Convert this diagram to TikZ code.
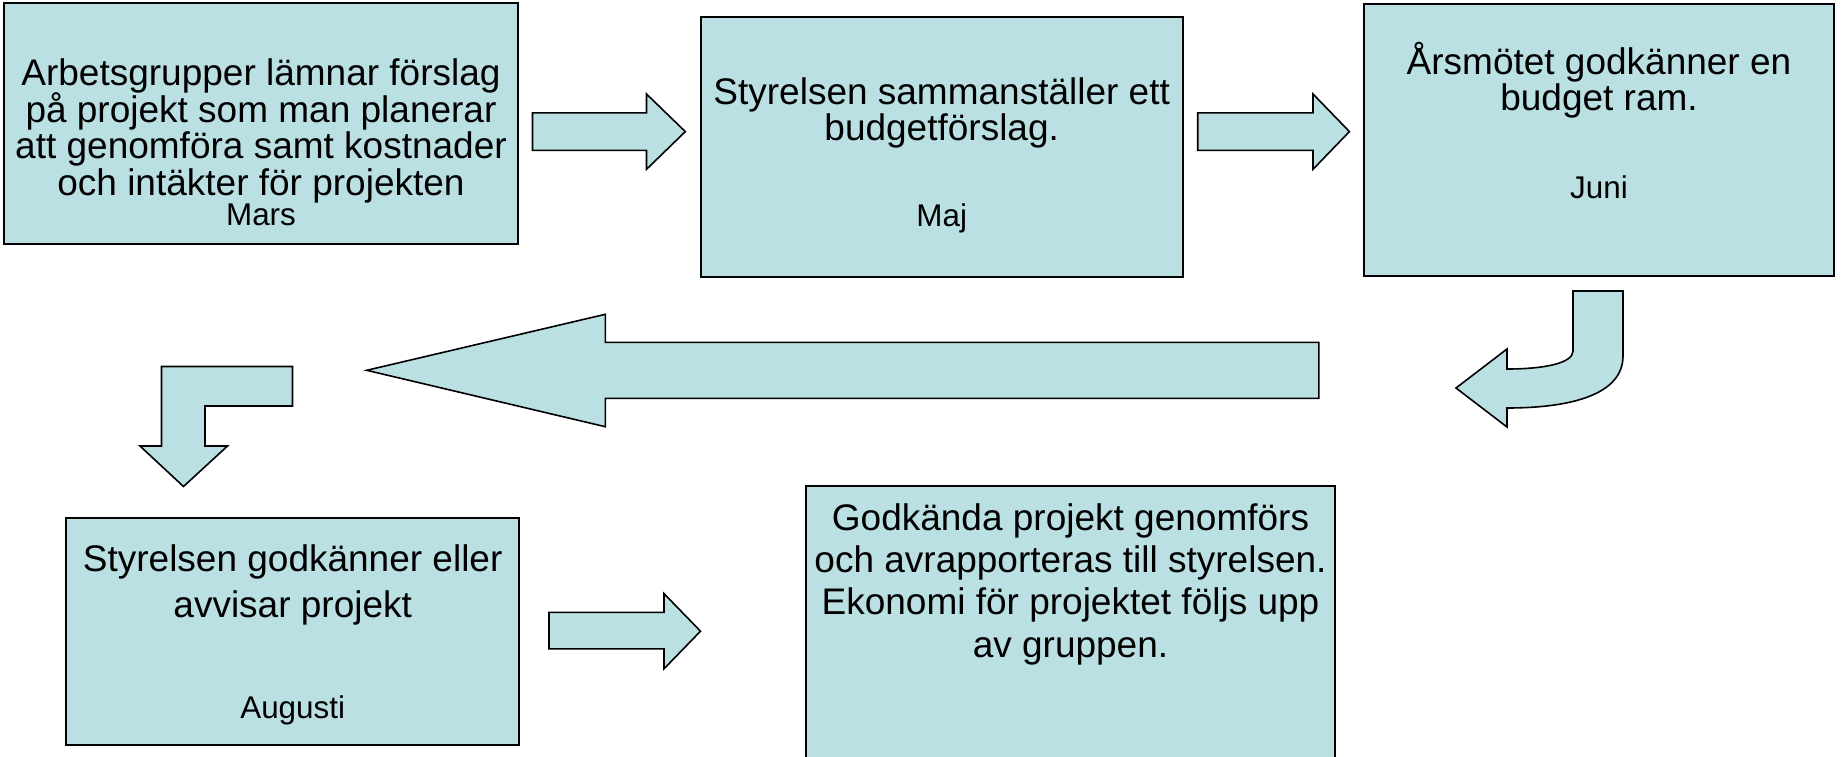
\documentclass[tikz,border=0pt]{standalone}
\usepackage{fontspec}
\setmainfont{Liberation Sans}
\usepackage[dvipsnames,svgnames]{xcolor}
\definecolor{boxfill}{HTML}{BBE0E3}
\newcommand\stepfont[1]{\fontsize{18.5}{#1}\selectfont\setlength{\lineskiplimit}{-20pt}}

\begin{document}
\begin{tikzpicture}[x=0.5pt,y=-0.5pt,
 box/.style={draw=black,line width=1pt,fill=boxfill,inner sep=0pt,outer sep=0pt},
 blockarrow/.style={draw=black,line width=0.8pt,fill=boxfill,line join=miter},
 txt/.style={align=center,inner sep=0pt,font=\stepfont{18.2pt}},
 month/.style={inner sep=0pt,font=\fontsize{15.7}{17}\selectfont}]
\useasboundingbox (0,0) rectangle (1843,756);
\clip (0,0) rectangle (1843,756);

% the five steps
\node[box,minimum width=257pt,minimum height=120.5pt] (b1) at (261,123.5) {};
\node[box,minimum width=241pt,minimum height=129.7pt] (b2) at (941.7,147) {};
\node[box,minimum width=235pt,minimum height=136pt] (b3) at (1599,140) {};
\node[box,minimum width=226.65pt,minimum height=113.35pt] (b4) at (292.7,631.7) {};
\node[box,minimum width=264.5pt,minimum height=157pt] (b5) at (1070.5,643) {};

\node[txt] (t1) at (261,131) {Arbetsgrupper lämnar förslag\\ på projekt som man planerar\\
 att genomföra samt kostnader\\ och intäkter för projekten};
\node[month] (m1) at (261,214.5) {Mars};
\node[txt] (t2) at (941.7,113) {Styrelsen sammanställer ett\\ budgetförslag.};
\node[month] (m2) at (941.7,218) {Maj};
\node[txt] (t3) at (1599,80) {Årsmötet godkänner en\\ budget ram.};
\node[month] (m3) at (1599,187.7) {Juni};
\node[txt,font=\stepfont{22.9pt}] (t4) at (292.7,585.3)
 {Styrelsen godkänner eller\\ avvisar projekt};
\node[month] (m4) at (292.7,709.9) {Augusti};
\node[txt,font=\stepfont{21.15pt}] (t5) at (1070.5,584)
 {Godkända projekt genomförs\\ och avrapporteras till styrelsen.\\
 Ekonomi för projektet följs upp\\ av gruppen.};

% block arrows
\draw[blockarrow] (532.5,112.8) -- (646.5,112.8) -- (646.5,94) -- (685.3,131.6)
 -- (646.5,169.3) -- (646.5,150.4) -- (532.5,150.4) -- cycle;
\draw[blockarrow] (1197.7,112.8) -- (1313,112.8) -- (1313,94) -- (1349.4,131.6)
 -- (1313,169.3) -- (1313,150.4) -- (1197.7,150.4) -- cycle;
\draw[blockarrow] (1573,291) -- (1623,291) -- (1623,356)
 .. controls (1623,395) and (1570,408) .. (1507,408) -- (1507,427)
 -- (1456,388) -- (1507,349) -- (1507,369)
 .. controls (1545,369) and (1573,363) .. (1573,351) -- cycle;
\draw[blockarrow] (1318.8,342.3) -- (605.3,342.3) -- (605.3,314.3) -- (366.7,370.3)
 -- (605.3,426.7) -- (605.3,398.3) -- (1318.8,398.3) -- cycle;
\draw[blockarrow] (292.5,366.5) -- (161.5,366.5) -- (161.5,446) -- (140,446)
 -- (183.5,486.5) -- (227.5,446) -- (205,446) -- (205,406) -- (292.5,406) -- cycle;
\draw[blockarrow] (549,612.4) -- (664,612.4) -- (664,593.6) -- (700.5,631.2)
 -- (664,668.8) -- (664,648.8) -- (549,648.8) -- cycle;
\end{tikzpicture}
\end{document}
